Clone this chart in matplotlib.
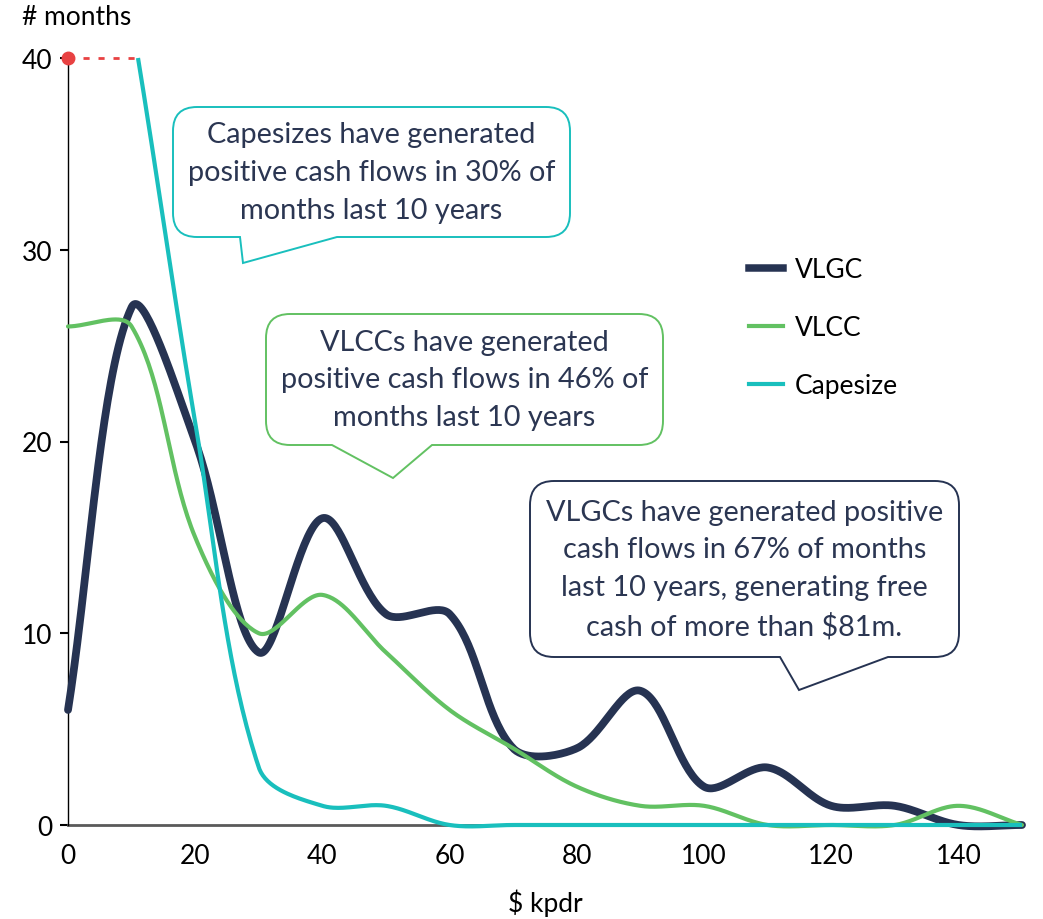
import numpy as np
import matplotlib
matplotlib.use("Agg")
import matplotlib.pyplot as plt
from matplotlib.path import Path
from matplotlib.patches import PathPatch
from matplotlib.lines import Line2D
from matplotlib.transforms import Affine2D

# ---- data: number of months in each earnings bucket ($ kpdr) ----
rate_bins = [0, 10, 20, 30, 40, 50, 60, 70, 80, 90, 100, 110, 120, 130, 140, 150]
vlgc_months = [6, 27, 20, 9, 16, 11, 11, 4, 4, 7, 2, 3, 1, 1, 0, 0]
vlcc_months = [26, 26, 15, 10, 12, 9, 6, 4, 2, 1, 1, 0, 0, 0, 1, 0]
capesize_months = [60, 42, 21, 3, 1, 1, 0, 0, 0, 0, 0, 0, 0, 0, 0, 0]
series_names = ["VLGC", "VLCC", "Capesize"]
x_ticks = [0, 20, 40, 60, 80, 100, 120, 140]
y_ticks = [0, 10, 20, 30, 40]
y_cap = 40

callout_cape = "Capesizes have generated\npositive cash flows in 30% of\nmonths last 10 years"
callout_vlcc = "VLCCs have generated\npositive cash flows in 46% of\nmonths last 10 years"
callout_vlgc = ("VLGCs have generated positive\ncash flows in 67% of months\n"
                "last 10 years, generating free\ncash of more than $81m.")

# ---- styling ----
NAVY = "#263352"
GREEN = "#62c162"
TEAL = "#19bfbd"
RED = "#e84142"
TEXT_NAVY = "#2b3652"
FONT = ["Lato", "DejaVu Sans"]
plt.rcParams["font.family"] = FONT
AXIS_FS = 19

W, H = 1043, 920
fig = plt.figure(figsize=(W / 100, H / 100), dpi=100)
ax = fig.add_axes([68 / W, (H - 826) / H, 954 / W, 767 / H])
ax.set_xlim(0, 150)
ax.set_ylim(0, y_cap)

# pixel coordinates measured from the top-left corner of the figure
px = Affine2D().scale(1, -1).translate(0, H)


def smooth_curve(xs, ys, n=40):
    """Chord-weighted cubic Bezier smoothing computed in display space."""
    pts = ax.transData.transform(np.column_stack([xs, ys]).astype(float))
    m = len(pts)
    out = [pts[:1]]
    t = np.linspace(0, 1, n)[1:, None]
    for i in range(m - 1):
        p0 = pts[i - 1] if i > 0 else pts[i]
        p1, p2 = pts[i], pts[i + 1]
        p3 = pts[i + 2] if i + 2 < m else pts[i + 1]
        d01 = np.linalg.norm(p1 - p0)
        d12 = np.linalg.norm(p2 - p1)
        d23 = np.linalg.norm(p3 - p2)
        c1 = p1 + (p2 - p0) / 3 * d12 / (d01 + d12)
        c2 = p2 - (p3 - p1) / 3 * d12 / (d12 + d23)
        seg = ((1 - t) ** 3) * p1 + 3 * ((1 - t) ** 2) * t * c1 \
            + 3 * (1 - t) * t ** 2 * c2 + t ** 3 * p2
        out.append(seg)
    curve = ax.transData.inverted().transform(np.vstack(out))
    return curve[:, 0], curve[:, 1]


# VLGC and VLCC curves
for vals, color, lw in [(vlgc_months, NAVY, 5.6), (vlcc_months, GREEN, 3.0)]:
    cx, cy = smooth_curve(rate_bins, vals)
    ax.plot(cx, cy, color=color, lw=lw, solid_capstyle="round",
            solid_joinstyle="round", clip_on=False, zorder=3)

# Capesize curve, cut where it leaves the top of the scale
cx, cy = smooth_curve(rate_bins, capesize_months)
k = np.argmax(cy <= y_cap)
x_cross = np.interp(y_cap, [cy[k], cy[k - 1]], [cx[k], cx[k - 1]])
cx = np.concatenate([[x_cross], cx[k:]])
cy = np.concatenate([[y_cap], cy[k:]])
ax.plot(cx, cy, color=TEAL, lw=3.0, solid_capstyle="butt",
        solid_joinstyle="round", clip_on=False, zorder=4)

# off-scale marker for the first Capesize bucket
ax.plot([0, x_cross], [y_cap, y_cap], color=RED, lw=2.0,
        ls=(0, (2.2, 3.2)), clip_on=False, zorder=4)
ax.plot([0], [y_cap], marker="o", ms=9, color=RED, clip_on=False, zorder=5)

# ---- axes ----
for s in ["top", "right"]:
    ax.spines[s].set_visible(False)
ax.spines["left"].set_color("black")
ax.spines["left"].set_linewidth(1.0)
ax.spines["bottom"].set_color("#5a5a5a")
ax.spines["bottom"].set_linewidth(2.0)
ax.spines["bottom"].set_zorder(2)
ax.set_xticks(x_ticks)
ax.set_yticks(y_ticks)
ax.tick_params(axis="x", length=0, pad=13, labelsize=AXIS_FS, labelcolor="black")
ax.tick_params(axis="y", length=6, width=1.5, pad=5, labelsize=AXIS_FS,
               labelcolor="black", color="black")
fig.text(545, 903, "$ kpdr", transform=px, fontsize=AXIS_FS, ha="center", va="center")
fig.text(22, 18, "# months", transform=px, fontsize=AXIS_FS, ha="left", va="center")

# ---- legend ----
handles = [Line2D([], [], color=NAVY, lw=5.4),
           Line2D([], [], color=GREEN, lw=3.0),
           Line2D([], [], color=TEAL, lw=3.0)]
fig.legend(handles, series_names, loc="upper left",
           bbox_to_anchor=(749, 258), bbox_transform=px, frameon=False,
           fontsize=AXIS_FS, borderpad=0, borderaxespad=0, handlelength=1.29,
           handletextpad=0.45, labelspacing=1.26)


# ---- speech-bubble callouts ----
def bubble(x0, y0, x1, y1, tail, r=24):
    ta, (tx, ty), tb = tail
    verts = [(x0 + r, y0), (x1 - r, y0), (x1, y0), (x1, y0 + r),
             (x1, y1 - r), (x1, y1), (x1 - r, y1),
             (tb, y1), (tx, ty), (ta, y1),
             (x0 + r, y1), (x0, y1), (x0, y1 - r),
             (x0, y0 + r), (x0, y0), (x0 + r, y0), (x0 + r, y0)]
    codes = [Path.MOVETO, Path.LINETO, Path.CURVE3, Path.CURVE3,
             Path.LINETO, Path.CURVE3, Path.CURVE3,
             Path.LINETO, Path.LINETO, Path.LINETO,
             Path.LINETO, Path.CURVE3, Path.CURVE3,
             Path.LINETO, Path.CURVE3, Path.CURVE3, Path.CLOSEPOLY]
    return Path(verts, codes)


callouts = [
    (callout_cape, TEAL, (173, 108, 570, 238), (240, (243, 264), 337)),
    (callout_vlcc, GREEN, (266, 315, 663, 446), (332, (393, 479), 432)),
    (callout_vlgc, NAVY, (530, 482, 959, 658), (780, (799, 691), 888)),
]
for text, edge, (x0, y0, x1, y1), tail in callouts:
    patch = PathPatch(bubble(x0, y0, x1, y1, tail), transform=px,
                      facecolor="white", edgecolor=edge, lw=1.4, zorder=6)
    fig.add_artist(patch)
    fig.text((x0 + x1) / 2, (y0 + y1) / 2, text, transform=px,
             ha="center", va="center", fontsize=20.8, color=TEXT_NAVY,
             linespacing=1.55, zorder=7)

fig.savefig("out.png", dpi=100)
